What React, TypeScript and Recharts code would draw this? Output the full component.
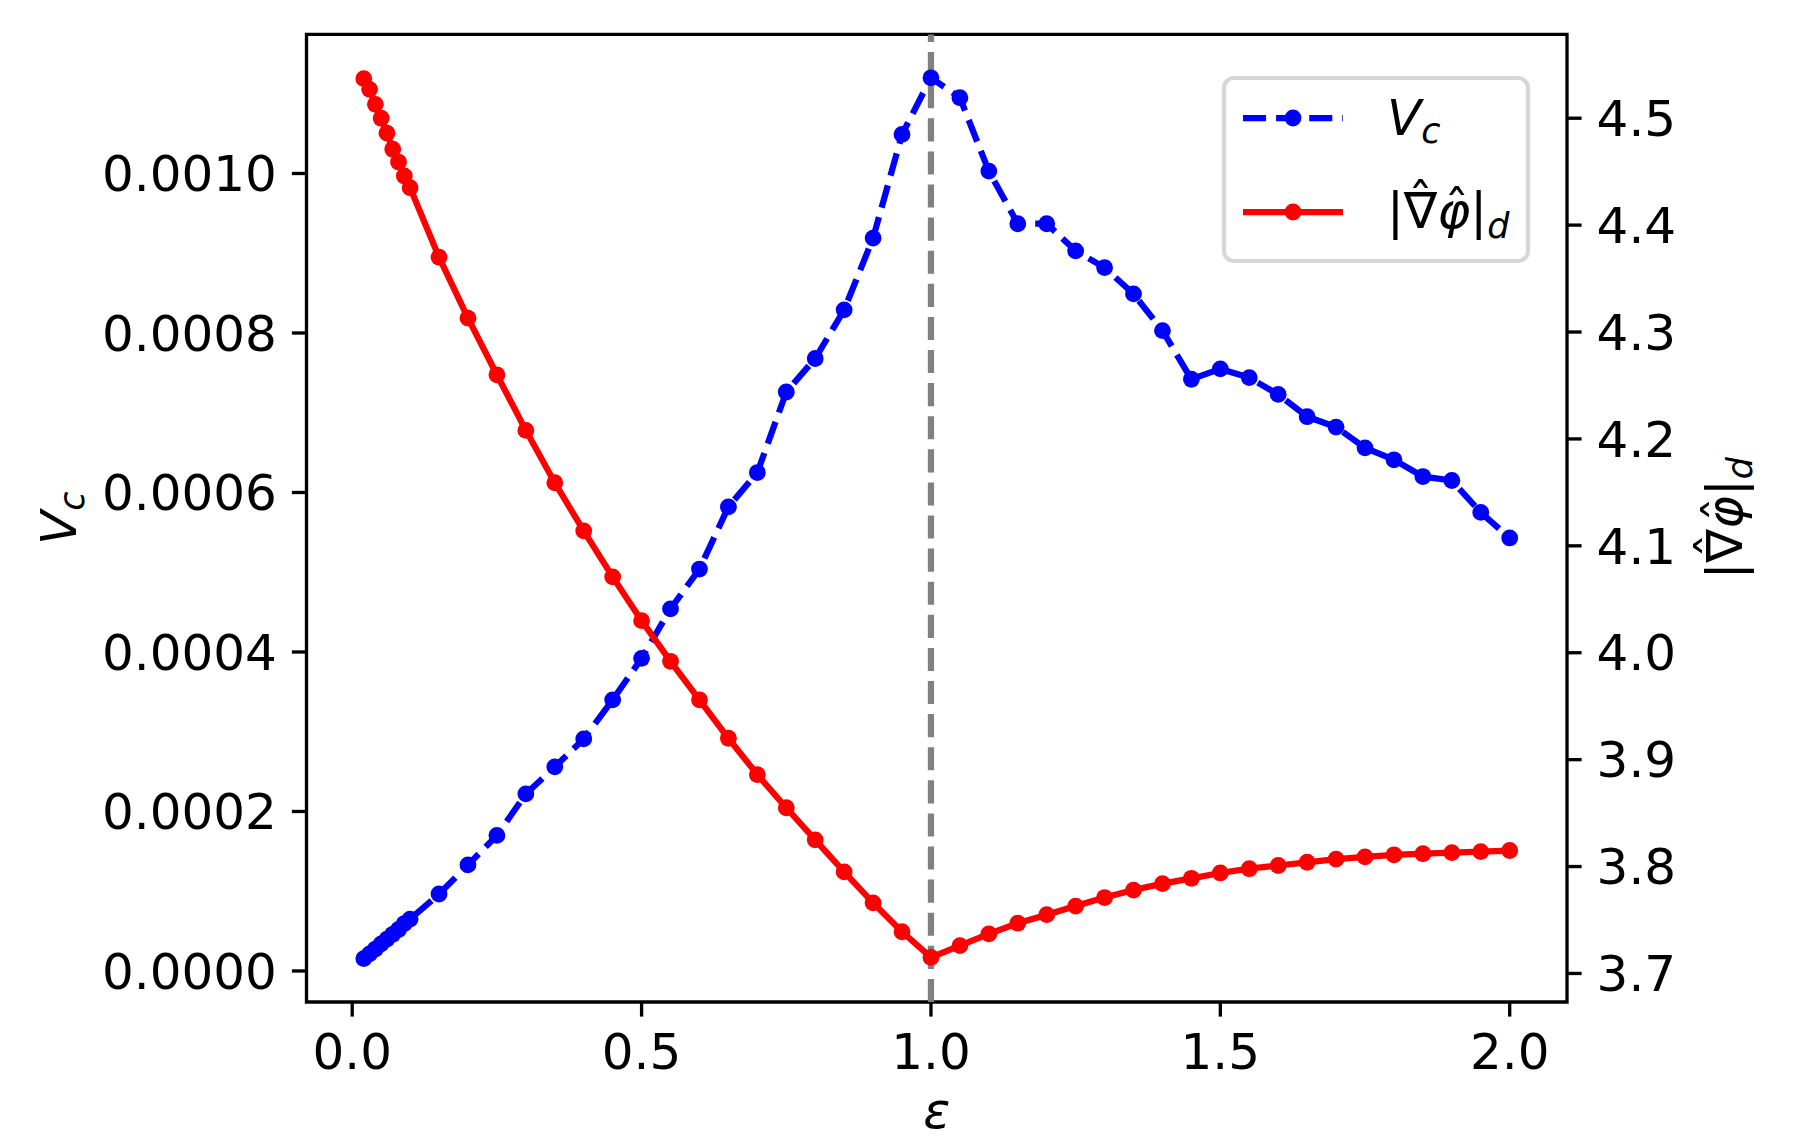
import React, { useLayoutEffect, useRef, useState } from 'react';
import { ComposedChart, Line, XAxis, YAxis, ReferenceLine, ReferenceArea, Legend } from 'recharts';

// ---- data ----
const epsilon = [
  0.02, 0.03, 0.04, 0.05, 0.06, 0.07, 0.08, 0.09, 0.1, 0.15, 0.2, 0.25, 0.3, 0.35, 0.4, 0.45,
  0.5, 0.55, 0.6, 0.65, 0.7, 0.75, 0.8, 0.85, 0.9, 0.95, 1.0, 1.05, 1.1, 1.15, 1.2, 1.25, 1.3,
  1.35, 1.4, 1.45, 1.5, 1.55, 1.6, 1.65, 1.7, 1.75, 1.8, 1.85, 1.9, 1.95, 2.0,
];

const vcValues = [
  0.0000155, 0.0000215, 0.0000275, 0.000034, 0.00004, 0.000046, 0.000052, 0.0000595, 0.000065,
  0.0000965, 0.000133, 0.00017, 0.000222, 0.000256, 0.000291, 0.00034, 0.000392, 0.000454,
  0.000504, 0.000582, 0.000625, 0.000726, 0.000768, 0.000829, 0.000919, 0.001049, 0.00112,
  0.001095, 0.001003, 0.000937, 0.000937, 0.000903, 0.000882, 0.000849, 0.000803, 0.000742,
  0.000755, 0.000744, 0.000723, 0.000695, 0.000682, 0.000656, 0.000641, 0.00062, 0.000615,
  0.000575, 0.000543,
];

const gradValues = [
  4.537, 4.527, 4.513, 4.5, 4.486, 4.471, 4.459, 4.446, 4.435, 4.37, 4.313, 4.26, 4.208, 4.159,
  4.114, 4.071, 4.03, 3.992, 3.956, 3.92, 3.886, 3.855, 3.825, 3.795, 3.766, 3.739, 3.715, 3.726,
  3.737, 3.747, 3.755, 3.763, 3.771, 3.778, 3.784, 3.789, 3.794, 3.798, 3.801, 3.804, 3.807,
  3.809, 3.811, 3.812, 3.813, 3.814, 3.815,
];

const xTicks = [0, 0.5, 1.0, 1.5, 2.0];
const vcTicks = [0, 0.0002, 0.0004, 0.0006, 0.0008, 0.001];
const gradTicks = [3.7, 3.8, 3.9, 4.0, 4.1, 4.2, 4.3, 4.4, 4.5];
const criticalEpsilon = 1.0;

const xDomain = [-0.079, 2.099];
const vcDomain = [-0.0000389, 0.0011744];
const gradDomain = [3.6733, 4.5784];

const data = epsilon.map((e, i) => ({ eps: e, vc: vcValues[i], grad: gradValues[i] }));

// ---- styles ----
const FONT = 'DejaVu Sans';
const FS = 50;
const LW = 6.25;
const DASH = '23.1 10';
const SPINE = 3.33;
const TICK_LEN = 14.6;
const BLUE = '#0000ff';
const RED = '#ff0000';
const GRAY = '#808080';
const DOT_R = 8.4;

const tickStyle = { fill: '#000', fontSize: FS, fontFamily: FONT };
const tickLineStyle = { stroke: '#000', strokeWidth: SPINE };

function VcText({ x, y, fontSize, anchor }: { x: number; y: number; fontSize: number; anchor?: string }) {
  return (
    <text x={x} y={y} fontFamily={FONT} fontSize={fontSize} fill="#000" textAnchor={anchor as any}>
      <tspan fontStyle="italic">V</tspan>
      <tspan fontStyle="italic" fontSize={fontSize * 0.7} dy={fontSize * 0.16}>
        c
      </tspan>
    </text>
  );
}

function GradText({ x, y, fontSize, anchor }: { x: number; y: number; fontSize: number; anchor?: string }) {
  const ref = useRef<SVGTextElement>(null);
  const [hatX, setHatX] = useState<number[] | null>(null);
  useLayoutEffect(() => {
    const el = ref.current;
    if (!el) return;
    try {
      const xs = [1, 2].map((i) => {
        const ext = el.getExtentOfChar(i);
        return ext.x + ext.width / 2;
      });
      setHatX(xs);
    } catch (e) {
      setHatX(null);
    }
  }, [x, y, fontSize, anchor]);
  return (
    <g>
      <text ref={ref} x={x} y={y} fontFamily={FONT} fontSize={fontSize} fill="#000" textAnchor={anchor as any}>
        <tspan>|∇</tspan>
        <tspan fontStyle="italic">φ</tspan>
        <tspan>|</tspan>
        <tspan fontStyle="italic" fontSize={fontSize * 0.7} dy={fontSize * 0.2}>
          d
        </tspan>
      </text>
      {hatX && (
        <>
          <text x={hatX[0]} y={y - fontSize * 0.18} fontFamily={FONT} fontSize={fontSize} fill="#000" textAnchor="middle">
            ˆ
          </text>
          <text x={hatX[1] + fontSize * 0.06} y={y - fontSize * 0.04} fontFamily={FONT} fontSize={fontSize} fill="#000" textAnchor="middle">
            ˆ
          </text>
        </>
      )}
    </g>
  );
}

const renderXLabel = (props: any) => {
  const vb = props.viewBox || { x: 306.5, y: 1002, width: 1260.5, height: 138 };
  const cx = vb.x + vb.width / 2;
  return (
    <text x={cx} y={vb.y + 126} fontFamily={FONT} fontSize={FS} fontStyle="italic" fill="#000" textAnchor="middle">
      ε
    </text>
  );
};

const renderLeftLabel = (props: any) => {
  const vb = props.viewBox || { x: 0, y: 34.4, width: 306.5, height: 967.6 };
  const cx = vb.x + 76;
  const cy = vb.y + vb.height / 2;
  return (
    <g transform={`translate(${cx},${cy}) rotate(-90)`}>
      <VcText x={0} y={0} fontSize={FS} anchor="middle" />
    </g>
  );
};

const renderRightLabel = (props: any) => {
  const vb = props.viewBox || { x: 1567, y: 34.4, width: 233, height: 967.6 };
  const cx = vb.x + 175;
  const cy = vb.y + vb.height / 2;
  return (
    <g transform={`translate(${cx},${cy}) rotate(-90)`}>
      <GradText x={0} y={0} fontSize={FS} anchor="middle" />
    </g>
  );
};

const renderLegend = () => (
  <svg width={310} height={190} style={{ display: 'block', overflow: 'visible' }}>
    <rect x={2} y={2} width={304} height={183} rx={10} ry={10} fill="#ffffff" fillOpacity={0.8} stroke="#cccccc" strokeOpacity={0.8} strokeWidth={4.2} />
    <line x1={21} y1={42} x2={121} y2={42} stroke={BLUE} strokeWidth={LW} strokeDasharray={DASH} />
    <circle cx={71} cy={42} r={DOT_R} fill={BLUE} />
    <line x1={21} y1={136} x2={121} y2={136} stroke={RED} strokeWidth={LW} />
    <circle cx={71} cy={136} r={DOT_R} fill={RED} />
    <VcText x={165} y={59} fontSize={FS} />
    <GradText x={165} y={152} fontSize={FS} />
  </svg>
);

export default function App() {
  return (
    <div style={{ position: 'absolute', left: 0, top: 0, width: 1800, height: 1140, background: '#fff' }}>
      <ComposedChart width={1800} height={1140} data={data} margin={{ top: 34.4, right: 0, bottom: 0, left: 0 }}>
        <XAxis
          xAxisId={0}
          dataKey="eps"
          type="number"
          domain={xDomain}
          allowDataOverflow
          ticks={xTicks}
          interval={0}
          tickFormatter={(v: number) => v.toFixed(1)}
          height={138}
          axisLine={false}
          tickLine={tickLineStyle}
          tickSize={TICK_LEN}
          tickMargin={17}
          tick={tickStyle}
          label={{ value: 'ε', content: renderXLabel }}
        />
        <YAxis
          yAxisId="left"
          type="number"
          domain={vcDomain}
          allowDataOverflow
          ticks={vcTicks}
          interval={0}
          tickFormatter={(v: number) => v.toFixed(4)}
          width={306.5}
          axisLine={false}
          tickLine={tickLineStyle}
          tickSize={TICK_LEN}
          tickMargin={15}
          tick={tickStyle}
          label={{ value: 'Vc', content: renderLeftLabel }}
        />
        <YAxis
          yAxisId="right"
          orientation="right"
          type="number"
          domain={gradDomain}
          allowDataOverflow
          ticks={gradTicks}
          interval={0}
          tickFormatter={(v: number) => v.toFixed(1)}
          width={233}
          axisLine={false}
          tickLine={tickLineStyle}
          tickSize={TICK_LEN}
          tickMargin={15}
          tick={tickStyle}
          label={{ value: 'grad', content: renderRightLabel }}
        />
        <ReferenceArea
          xAxisId={0}
          yAxisId="left"
          x1={xDomain[0]}
          x2={xDomain[1]}
          y1={vcDomain[0]}
          y2={vcDomain[1]}
          fill="#ffffff"
          fillOpacity={0}
          stroke="#000"
          strokeWidth={SPINE}
          ifOverflow="visible"
        />
        <ReferenceLine xAxisId={0} yAxisId="left" x={criticalEpsilon} stroke={GRAY} strokeWidth={LW} strokeDasharray={DASH} />
        <Line
          xAxisId={0}
          yAxisId="left"
          type="linear"
          dataKey="vc"
          name="Vc"
          stroke={BLUE}
          strokeWidth={LW}
          strokeDasharray={DASH}
          dot={{ r: DOT_R, fill: BLUE, stroke: 'none' }}
          activeDot={false}
          isAnimationActive={false}
        />
        <Line
          xAxisId={0}
          yAxisId="right"
          type="linear"
          dataKey="grad"
          name="grad"
          stroke={RED}
          strokeWidth={LW}
          dot={{ r: DOT_R, fill: RED, stroke: 'none' }}
          activeDot={false}
          isAnimationActive={false}
        />
        <Legend
          layout="vertical"
          align="center"
          verticalAlign="middle"
          content={renderLegend}
          wrapperStyle={{ position: 'absolute', left: 1222, top: 76, width: 310, height: 190 }}
        />
      </ComposedChart>
    </div>
  );
}
